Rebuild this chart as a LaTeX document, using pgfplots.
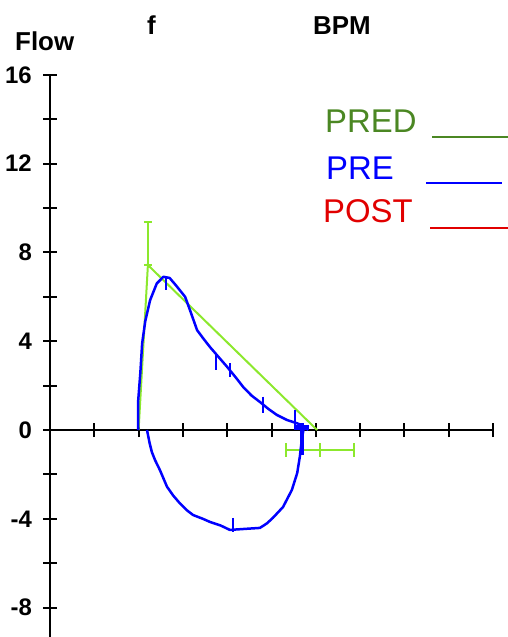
\documentclass[border=0pt]{standalone}
\usepackage{pgfplots}
\pgfplotsset{compat=1.18}
\usepackage{fontspec}
\setmainfont{Liberation Sans}
\usepackage{xcolor}
\definecolor{predGreen}{RGB}{140,232,45}
\definecolor{predText}{RGB}{75,135,35}
\definecolor{preBlue}{RGB}{0,0,255}
\definecolor{postRed}{RGB}{225,0,0}

\begin{document}
\begin{tikzpicture}
\begin{axis}[
    anchor=origin, at={(0,0)},
    x=44.3bp, y=22.2bp,
    xmin=0, xmax=10, ymin=-9.35, ymax=16,
    axis lines=middle,
    axis line style={-, line width=2.4bp},
    hide obscured x ticks=false,
    hide obscured y ticks=false,
    xtick={0,...,10}, xticklabels={},
    ytick={-8,-6,...,16},
    yticklabels={-8,{},-4,{},0,{},4,{},8,{},12,{},16},
    tick align=center,
    major tick length=14bp,
    tick style={line width=2bp, black},
    yticklabel style={font=\bfseries\fontsize{24}{24}\selectfont, anchor=east, inner sep=0pt, xshift=-11bp},
    clip=false,
    unbounded coords=jump,
]

% PRED (predicted) outline and error bars
\addplot[predGreen, line width=2bp] coordinates {
    (2.00,0) (2.21,7.43) (6.03,0)
};
\addplot[predGreen, line width=2bp] coordinates {
    (2.21,7.43) (2.21,9.37) (nan,nan)
    (2.12,9.37) (2.30,9.37) (nan,nan)
    (2.12,7.43) (2.30,7.43) (nan,nan)
    (5.33,-0.9) (6.86,-0.9) (nan,nan)
    (5.33,-0.6) (5.33,-1.2) (nan,nan)
    (6.10,-0.6) (6.10,-1.2) (nan,nan)
    (6.86,-0.6) (6.86,-1.2)
};

% PRE expiratory limb
\addplot[preBlue, line width=2.5bp, line join=round] coordinates {
    (1.99,0) (1.99,1.3) (2.04,2.6) (2.08,3.9) (2.15,4.9) (2.26,5.85)
    (2.41,6.6) (2.56,6.9) (2.70,6.85) (2.85,6.5) (3.05,6.0) (3.16,5.4)
    (3.32,4.5) (3.45,4.15) (3.61,3.74) (3.80,3.3) (4.00,2.84) (4.20,2.35)
    (4.36,1.94) (4.55,1.55) (4.74,1.26) (4.93,0.95) (5.12,0.68) (5.35,0.45)
    (5.58,0.3) (5.70,0.2) (5.83,0)
};
% PRE inspiratory limb
\addplot[preBlue, line width=2.5bp, line join=round] coordinates {
    (2.19,0) (2.25,-0.6) (2.30,-1.0) (2.37,-1.35) (2.48,-1.8) (2.64,-2.55)
    (2.78,-2.95) (2.93,-3.3) (3.08,-3.6) (3.23,-3.83) (3.45,-4.0) (3.61,-4.14)
    (3.85,-4.3) (4.06,-4.5) (4.36,-4.46) (4.74,-4.41) (4.90,-4.2) (5.03,-3.96)
    (5.26,-3.47) (5.46,-2.7) (5.58,-1.94) (5.64,-1.2) (5.68,-0.5) (5.72,0)
};
% PRE marks
\addplot[preBlue, line width=2.2bp] coordinates {
    (2.62,6.9) (2.62,6.3) (nan,nan)
    (3.75,3.38) (3.75,2.7) (nan,nan)
    (4.06,3.0) (4.06,2.4) (nan,nan)
    (4.81,1.5) (4.81,0.77) (nan,nan)
    (5.53,0.9) (5.53,0) (nan,nan)
    (4.13,-3.96) (4.13,-4.6)
};
\addplot[preBlue, line width=4.5bp] coordinates {
    (5.69,0.3) (5.69,-1.13)
};
\addplot[preBlue, line width=5bp] coordinates {
    (5.51,0.1) (5.85,0.1)
};
\end{axis}

% titles
\node[anchor=base west, inner sep=0pt, font=\bfseries\fontsize{26}{26}\selectfont] at (-35bp,379bp) {Flow};
\node[anchor=base west, inner sep=0pt, font=\bfseries\fontsize{26}{26}\selectfont] at (97bp,395bp) {f};
\node[anchor=base west, inner sep=0pt, font=\bfseries\fontsize{26}{26}\selectfont] at (263bp,395bp) {BPM};

% legend
\node[anchor=base west, inner sep=0pt, font=\fontsize{33}{33}\selectfont, text=predText] at (275bp,297bp) {PRED};
\draw[predText, line width=2.2bp] (382bp,293bp) -- (458bp,293bp);
\node[anchor=base west, inner sep=0pt, font=\fontsize{33}{33}\selectfont, text=preBlue] at (276bp,250bp) {PRE};
\draw[preBlue, line width=2.2bp] (376bp,247bp) -- (452bp,247bp);
\node[anchor=base west, inner sep=0pt, font=\fontsize{33}{33}\selectfont, text=postRed] at (273bp,207bp) {POST};
\draw[postRed, line width=2.2bp] (380bp,202bp) -- (458bp,202bp);

\pgfresetboundingbox
\useasboundingbox (-50bp,-207bp) rectangle (458bp,430bp);
\end{tikzpicture}
\end{document}
